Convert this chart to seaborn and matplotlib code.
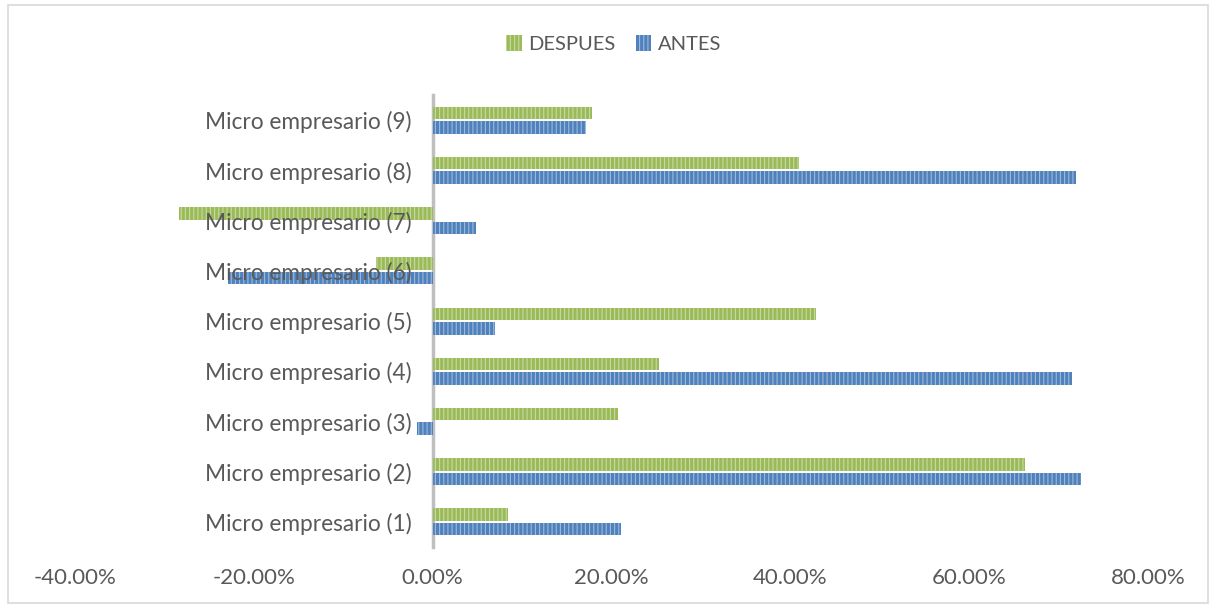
import pandas as pd
import matplotlib.pyplot as plt
import seaborn as sns
from matplotlib.patches import Patch, Rectangle
from matplotlib.ticker import FuncFormatter

# values (percent)
categorias = ["Micro empresario (9)", "Micro empresario (8)", "Micro empresario (7)",
              "Micro empresario (6)", "Micro empresario (5)", "Micro empresario (4)",
              "Micro empresario (3)", "Micro empresario (2)", "Micro empresario (1)"]
despues = [17.8, 41.0, -28.4, -6.3, 42.9, 25.3, 20.7, 66.3, 8.4]
antes = [17.1, 72.0, 4.9, -22.9, 7.0, 71.5, -1.7, 72.5, 21.1]
series = ["DESPUES", "ANTES"]
colores = {"DESPUES": "#9BBB59", "ANTES": "#4F81BD"}
x_ticks = [-40, -20, 0, 20, 40, 60, 80]

df = pd.DataFrame({
    "categoria": categorias * 2,
    "serie": ["DESPUES"] * len(categorias) + ["ANTES"] * len(categorias),
    "valor": despues + antes,
})

sns.set_theme(style="white")
plt.rcParams["font.family"] = ["Lato", "DejaVu Sans"]
plt.rcParams["hatch.linewidth"] = 0.8

fig = plt.figure(figsize=(12.11, 6.04), dpi=100)
ax = fig.add_axes([0.0619, 0.0944, 0.886, 0.748])

sns.barplot(data=df, y="categoria", x="valor", hue="serie", order=categorias,
            hue_order=series, palette=colores, orient="h", width=0.58,
            saturation=1, ax=ax, legend=False)

# striped look of the Excel bars, with a thin gap between the pair
for bar in ax.patches:
    bar.set_hatch("||||")
    bar.set_edgecolor((1, 1, 1, 0.45))
    bar.set_linewidth(0)
    h = bar.get_height()
    bar.set_y(bar.get_y() + 0.02)
    bar.set_height(h - 0.04)

ax.set_xlim(-40, 80)
ax.set_xticks(x_ticks)
ax.xaxis.set_major_formatter(FuncFormatter(lambda v, p: f"{v:.2f}%"))
ax.set_xlabel("")
ax.set_ylabel("")

for s in ["top", "right", "bottom"]:
    ax.spines[s].set_visible(False)
ax.spines["left"].set_position(("data", 0))
ax.spines["left"].set_color("#BFBFBF")
ax.spines["left"].set_linewidth(2.5)
ax.spines["left"].set_zorder(0.5)

# category labels sit on top of the bars, as in Excel
ax.yaxis.set_zorder(5)
ax.xaxis.set_zorder(5)

ax.tick_params(axis="x", length=0, pad=15, labelsize=16, labelcolor="#595959")
ax.tick_params(axis="y", length=0, pad=15, labelsize=16.3, labelcolor="#595959")

handles = [Patch(facecolor=colores[s], edgecolor=(1, 1, 1, 0.45), hatch="||||",
                 linewidth=0, label=s) for s in series]
fig.legend(handles=handles, loc="center", bbox_to_anchor=(0.507, 0.927), ncol=2,
           frameon=False, fontsize=14.5, handlelength=0.75, handleheight=0.85,
           handletextpad=0.35, columnspacing=1.0, labelcolor="#595959")

# light frame around the chart area
fig.patches.append(Rectangle((8 / 1211, 0.002), 1200 / 1211, 1 - 5 / 604 - 0.002,
                             transform=fig.transFigure, fill=False,
                             edgecolor="#D9D9D9", linewidth=1.2))

fig.savefig("out.png", dpi=100)
